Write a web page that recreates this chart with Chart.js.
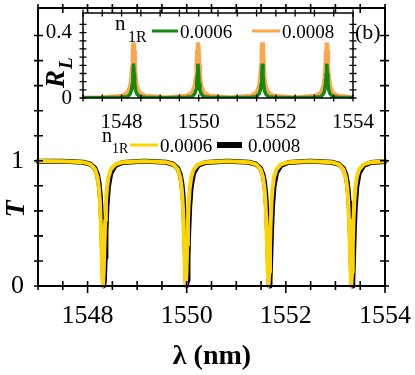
<!DOCTYPE html>
<html><head><meta charset="utf-8">
<script src="https://cdn.jsdelivr.net/npm/chart.js@4"></script>
<style>
html,body{margin:0;padding:0;background:#fff;}
#wrap{position:relative;width:415px;height:375px;overflow:hidden;}
#main,#inset{position:absolute;left:0;top:0;}
</style></head><body>
<div id="wrap">
<canvas id="main" width="415" height="375" style="width:415px;height:375px"></canvas>
<canvas id="inset" width="415" height="150" style="width:415px;height:150px"></canvas>
</div>
<script>
// ---------- main panel data: transmission T vs wavelength (nm) ----------
const lambdaMain = [1547.00,
 1547.51,1547.91,1548.06,1548.15,1548.20,1548.23,1548.25,1548.265,1548.28,1548.295,1548.31,1548.325,1548.34,1548.355,1548.37,1548.39,1548.42,1548.47,1548.56,1548.71,1549.11,
 1549.18,1549.58,1549.73,1549.82,1549.87,1549.90,1549.92,1549.935,1549.95,1549.965,1549.98,1549.995,1550.01,1550.025,1550.04,1550.06,1550.09,1550.14,1550.23,1550.38,1550.78,
 1550.85,1551.25,1551.40,1551.49,1551.54,1551.57,1551.59,1551.605,1551.62,1551.635,1551.65,1551.665,1551.68,1551.695,1551.71,1551.73,1551.76,1551.81,1551.90,1552.05,1552.45,
 1552.52,1552.92,1553.07,1553.16,1553.21,1553.24,1553.26,1553.275,1553.29,1553.305,1553.32,1553.335,1553.35,1553.365,1553.38,1553.40,1553.43,1553.48,1553.57,1553.72,1554.00];
const tYellow = [0.998,
 0.997,0.989,0.971,0.932,0.867,0.776,0.661,0.523,0.327,0.109,0,0.109,0.327,0.523,0.661,0.776,0.867,0.932,0.971,0.989,0.997,
 0.997,0.989,0.971,0.932,0.867,0.776,0.661,0.523,0.327,0.109,0,0.109,0.327,0.523,0.661,0.776,0.867,0.932,0.971,0.989,0.997,
 0.997,0.989,0.971,0.932,0.867,0.776,0.661,0.523,0.327,0.109,0,0.109,0.327,0.523,0.661,0.776,0.867,0.932,0.971,0.989,0.997,
 0.997,0.989,0.971,0.932,0.867,0.776,0.661,0.523,0.327,0.109,0,0.109,0.327,0.523,0.661,0.776,0.867,0.932,0.971,0.989,0.996];
const tBlack = [0.997,
 0.997,0.988,0.972,0.939,0.889,0.825,0.751,0.666,0.542,0.367,0.159,0,0.045,0.228,0.431,0.630,0.793,0.903,0.962,0.986,0.996,
 0.997,0.988,0.972,0.939,0.889,0.825,0.751,0.666,0.542,0.367,0.159,0,0.045,0.228,0.431,0.630,0.793,0.903,0.962,0.986,0.996,
 0.997,0.988,0.972,0.939,0.889,0.825,0.751,0.666,0.542,0.367,0.159,0,0.045,0.228,0.431,0.630,0.793,0.903,0.962,0.986,0.996,
 0.997,0.988,0.972,0.939,0.889,0.825,0.751,0.666,0.542,0.367,0.159,0,0.045,0.228,0.431,0.630,0.793,0.903,0.962,0.986,0.995];
const seriesLabels = ['0.0006', '0.0008'];
const legendPrefix = 'n';
const legendSub = '1R';

// ---------- inset data: reflectance R_L vs wavelength ----------
const lambdaInset = [1547.00,
 1547.51,1548.01,1548.16,1548.23,1548.26,1548.28,1548.295,1548.31,1548.325,1548.34,1548.36,1548.39,1548.46,1548.61,1549.11,
 1549.18,1549.68,1549.83,1549.90,1549.93,1549.95,1549.965,1549.98,1549.995,1550.01,1550.03,1550.06,1550.13,1550.28,1550.78,
 1550.85,1551.35,1551.50,1551.57,1551.60,1551.62,1551.635,1551.65,1551.665,1551.68,1551.70,1551.73,1551.80,1551.95,1552.45,
 1552.52,1553.02,1553.17,1553.24,1553.27,1553.29,1553.305,1553.32,1553.335,1553.35,1553.37,1553.40,1553.47,1553.62,1554.00];
const rGreen = [0.001,
 0.001,0.004,0.008,0.027,0.05,0.09,0.15,0.21,0.15,0.09,0.05,0.027,0.008,0.004,0.001,
 0.001,0.004,0.008,0.027,0.05,0.09,0.15,0.21,0.15,0.09,0.05,0.027,0.008,0.004,0.001,
 0.001,0.004,0.008,0.027,0.05,0.09,0.15,0.21,0.15,0.09,0.05,0.027,0.008,0.004,0.001,
 0.001,0.004,0.008,0.027,0.05,0.09,0.15,0.21,0.15,0.09,0.05,0.027,0.008,0.004,0.001];
const rOrange = [0.002,
 0.003,0.012,0.03,0.075,0.13,0.2,0.29,0.34,0.29,0.2,0.13,0.075,0.03,0.012,0.003,
 0.003,0.012,0.03,0.075,0.13,0.2,0.29,0.34,0.29,0.2,0.13,0.075,0.03,0.012,0.003,
 0.003,0.012,0.03,0.075,0.13,0.2,0.29,0.34,0.29,0.2,0.13,0.075,0.03,0.012,0.003,
 0.003,0.012,0.03,0.075,0.13,0.2,0.29,0.34,0.29,0.2,0.13,0.075,0.03,0.012,0.003];

// tick label values
const xTickLabels = [1548, 1550, 1552, 1554];
const yTickLabelsMain = [0, 1];
const yTickLabelsInset = [0, 0.4];

const SERIF = '"Liberation Serif", "Times New Roman", serif';
const pts = (xs, ys) => xs.map((x, i) => ({x: x, y: ys[i]}));
const near = (v, list) => list.find(t => Math.abs(t - v) < 1e-9);
const onStep = (v, s) => Math.abs(v / s - Math.round(v / s)) < 1e-6;

function axesPlugin(o) {
  return {
    id: o.id,
    beforeDraw(chart) {
      if (!o.fill) return;
      const a = chart.chartArea, ctx = chart.ctx;
      ctx.save(); ctx.fillStyle = '#fff';
      ctx.fillRect(a.left, a.top, a.right - a.left, a.bottom - a.top);
      ctx.restore();
    },
    afterDatasetsDraw(chart) {
      const {ctx, chartArea: a} = chart;
      const x = chart.scales.x, y = chart.scales.y;
      ctx.save();
      ctx.strokeStyle = '#000';
      ctx.lineWidth = o.frameW;
      ctx.strokeRect(a.left, a.top, a.right - a.left, a.bottom - a.top);
      ctx.lineWidth = o.tickW;
      ctx.beginPath();
      x.ticks.forEach(t => {
        if (!onStep(t.value, o.xStep)) return;
        const px = x.getPixelForValue(t.value);
        const maj = near(t.value, o.xMaj) !== undefined;
        ctx.moveTo(px, a.bottom - o.tin); ctx.lineTo(px, a.bottom + (maj ? o.toutMaj : o.tout));
        ctx.moveTo(px, a.top + o.tin); ctx.lineTo(px, a.top - o.tout);
      });
      y.ticks.forEach(t => {
        if (!onStep(t.value, o.yStep)) return;
        const py = y.getPixelForValue(t.value);
        ctx.moveTo(a.left - o.tout, py); ctx.lineTo(a.left + o.tin, py);
        ctx.moveTo(a.right - o.tin, py); ctx.lineTo(a.right + o.tout, py);
      });
      ctx.stroke();
      ctx.restore();
    }
  };
}

const mainText = {
  id: 'mainText',
  afterDraw(chart) {
    const ctx = chart.ctx, ds = chart.data.datasets;
    ctx.save();
    ctx.fillStyle = '#000';
    ctx.textBaseline = 'alphabetic';
    ctx.font = 'bold 28px ' + SERIF;
    ctx.textAlign = 'center';
    ctx.fillText('\u03bb (nm)', 212, 364);
    ctx.save();
    ctx.translate(24, 209); ctx.rotate(-Math.PI / 2);
    ctx.font = 'italic bold 28px ' + SERIF;
    ctx.fillText('T', 0, 0);
    ctx.restore();
    ctx.textAlign = 'left';
    ctx.font = '20px ' + SERIF; ctx.fillText(legendPrefix, 102, 142);
    ctx.font = '14px ' + SERIF; ctx.fillText(legendSub, 112, 153);
    ctx.lineCap = 'butt';
    ctx.strokeStyle = ds[0].borderColor; ctx.lineWidth = 3;
    ctx.beginPath(); ctx.moveTo(130, 145); ctx.lineTo(158, 145); ctx.stroke();
    ctx.font = '19px ' + SERIF; ctx.fillText(ds[0].label, 160, 152);
    ctx.strokeStyle = ds[1].borderColor; ctx.lineWidth = 6;
    ctx.beginPath(); ctx.moveTo(217, 145); ctx.lineTo(242, 145); ctx.stroke();
    ctx.fillText(ds[1].label, 248, 152);
    ctx.restore();
  }
};

const insetText = {
  id: 'insetText',
  afterDraw(chart) {
    const ctx = chart.ctx, ds = chart.data.datasets;
    ctx.save();
    ctx.fillStyle = '#000';
    ctx.textBaseline = 'alphabetic';
    ctx.save();
    ctx.translate(64, 88); ctx.rotate(-Math.PI / 2);
    ctx.font = 'italic bold 27px ' + SERIF;
    ctx.textAlign = 'left';
    ctx.fillText('R', 0, 0);
    const w = ctx.measureText('R').width;
    ctx.font = 'italic bold 19px ' + SERIF;
    ctx.fillText('L', w + 1, 8);
    ctx.restore();
    ctx.textAlign = 'left';
    ctx.font = '21px ' + SERIF; ctx.fillText(legendPrefix, 115, 30);
    ctx.font = '16px ' + SERIF; ctx.fillText(legendSub, 128, 42);
    ctx.lineCap = 'butt';
    ctx.strokeStyle = ds[0].borderColor; ctx.lineWidth = 3;
    ctx.beginPath(); ctx.moveTo(152, 31); ctx.lineTo(178, 31); ctx.stroke();
    ctx.font = '19px ' + SERIF; ctx.fillText(ds[0].label, 180, 38);
    ctx.strokeStyle = ds[1].borderColor; ctx.lineWidth = 3;
    ctx.beginPath(); ctx.moveTo(252, 31); ctx.lineTo(280, 31); ctx.stroke();
    ctx.fillText(ds[1].label, 282, 38);
    ctx.font = '22px ' + SERIF; ctx.fillText('(b)', 355, 39);
    ctx.restore();
  }
};

new Chart(document.getElementById('main'), {
  type: 'line',
  data: {
    datasets: [
      {label: seriesLabels[0], data: pts(lambdaMain, tYellow), borderColor: '#FFD500', borderWidth: 4, order: 1, clip: false},
      {label: seriesLabels[1], data: pts(lambdaMain, tBlack), borderColor: '#000000', borderWidth: 5, order: 2, clip: false}
    ]
  },
  options: {
    responsive: false, animation: false, devicePixelRatio: 1,
    elements: {point: {radius: 0}, line: {tension: 0, borderJoinStyle: 'round', borderCapStyle: 'round'}},
    layout: {padding: {left: 0, right: 30, top: 8, bottom: 0}},
    plugins: {legend: {display: false}, tooltip: {enabled: false}},
    scales: {
      x: {
        type: 'linear', min: 1547, max: 1554,
        grid: {display: false, drawTicks: false}, border: {display: false},
        ticks: {stepSize: 0.5, autoSkip: false, maxRotation: 0, padding: 15, color: '#000',
          font: {family: SERIF, size: 26},
          callback: v => near(v, xTickLabels) !== undefined ? String(near(v, xTickLabels)) : ''},
        afterFit: s => { s.height = 89; s.paddingLeft = 0; s.paddingRight = 0; }
      },
      y: {
        type: 'linear', min: 0, max: 2.22,
        grid: {display: false, drawTicks: false}, border: {display: false},
        ticks: {stepSize: 0.2, autoSkip: false, padding: 14, color: '#000',
          font: {family: SERIF, size: 26},
          callback: v => near(v, yTickLabelsMain) !== undefined ? String(near(v, yTickLabelsMain)) : ''},
        afterFit: s => { s.width = 38; s.paddingTop = 0; s.paddingBottom = 0; }
      }
    }
  },
  plugins: [axesPlugin({id: 'axMain', fill: false, frameW: 2, tickW: 1.6, tin: 5, tout: 4, toutMaj: 7, xStep: 0.5, yStep: 0.2, xMaj: xTickLabels}), mainText]
});

new Chart(document.getElementById('inset'), {
  type: 'line',
  data: {
    datasets: [
      {label: seriesLabels[0], data: pts(lambdaInset, rGreen), borderColor: '#118a11', borderWidth: 3.5, order: 1},
      {label: seriesLabels[1], data: pts(lambdaInset, rOrange), borderColor: '#ffa64d', borderWidth: 4.5, order: 2}
    ]
  },
  options: {
    responsive: false, animation: false, devicePixelRatio: 1,
    elements: {point: {radius: 0}, line: {tension: 0, borderJoinStyle: 'bevel', borderCapStyle: 'butt'}},
    layout: {padding: {left: 0, right: 62, top: 13, bottom: 0}},
    plugins: {legend: {display: false}, tooltip: {enabled: false}},
    scales: {
      x: {
        type: 'linear', min: 1547, max: 1554,
        grid: {display: false, drawTicks: false}, border: {display: false},
        ticks: {stepSize: 0.5, autoSkip: false, maxRotation: 0, padding: 12, color: '#000',
          font: {family: SERIF, size: 21},
          callback: v => near(v, xTickLabels) !== undefined ? String(near(v, xTickLabels)) : ''},
        afterFit: s => { s.height = 52; s.paddingLeft = 0; s.paddingRight = 0; }
      },
      y: {
        type: 'linear', min: 0, max: 0.52,
        grid: {display: false, drawTicks: false}, border: {display: false},
        ticks: {stepSize: 0.05, autoSkip: false, padding: 11, color: '#000',
          font: {family: SERIF, size: 21},
          callback: v => near(v, yTickLabelsInset) !== undefined ? String(near(v, yTickLabelsInset)) : ''},
        afterFit: s => { s.width = 83; s.paddingTop = 0; s.paddingBottom = 0; }
      }
    }
  },
  plugins: [axesPlugin({id: 'axInset', fill: true, frameW: 1.5, tickW: 1.3, tin: 3.5, tout: 3.5, toutMaj: 3.5, xStep: 0.5, yStep: 0.05, xMaj: xTickLabels}), insetText]
});
</script>
</body></html>
